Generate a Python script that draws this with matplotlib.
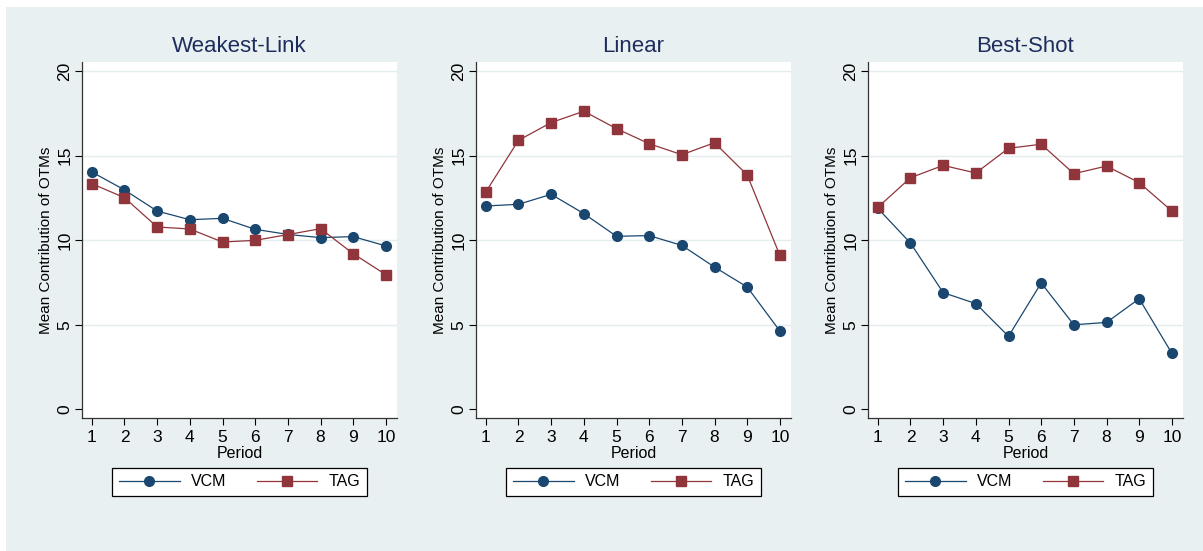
import matplotlib
matplotlib.use("Agg")
import matplotlib.pyplot as plt
from matplotlib.patches import Rectangle

plt.rcParams['font.family'] = ['Liberation Sans', 'DejaVu Sans']

periods = [1, 2, 3, 4, 5, 6, 7, 8, 9, 10]
panel_titles = ["Weakest-Link", "Linear", "Best-Shot"]

wl_vcm = [14.03, 12.97, 11.72, 11.21, 11.29, 10.64, 10.34, 10.15, 10.21, 9.66]
wl_tag = [13.34, 12.51, 10.78, 10.66, 9.89, 9.99, 10.33, 10.68, 9.20, 7.96]
lin_vcm = [12.02, 12.12, 12.71, 11.57, 10.23, 10.27, 9.69, 8.41, 7.23, 4.63]
lin_tag = [12.85, 15.90, 16.95, 17.62, 16.59, 15.70, 15.05, 15.76, 13.85, 9.10]
bs_vcm = [11.88, 9.83, 6.90, 6.25, 4.32, 7.47, 5.00, 5.14, 6.54, 3.31]
bs_tag = [11.94, 13.69, 14.42, 13.97, 15.43, 15.67, 13.93, 14.38, 13.40, 11.72]

yticks = [0, 5, 10, 15, 20]
series_labels = ["VCM", "TAG"]

W, H = 1203, 551
fig = plt.figure(figsize=(W / 100, H / 100), dpi=100)
fig.patch.set_facecolor("white")
bg = "#E9F0F2"
fig.patches.append(Rectangle((6 / W, 0), 1 - 6 / W, 1 - 7 / H, transform=fig.transFigure,
                             facecolor=bg, edgecolor="none", zorder=-10))

navy = "#1A476F"
maroon = "#90353B"
title_c = "#1E2E5C"

lefts = [82, 476, 868]
data = [(wl_vcm, wl_tag), (lin_vcm, lin_tag), (bs_vcm, bs_tag)]
top_px, bot_px = 62, 418
for i, (title, (vcm, tag)) in enumerate(zip(panel_titles, data)):
    l = lefts[i]
    ax = fig.add_axes([l / W, (H - bot_px) / H, 315 / W, (bot_px - top_px) / H])
    ax.set_facecolor("white")
    for y in [5, 10, 15, 20]:
        ax.axhline(y, color="#E3ECEF", lw=1.0, zorder=0)
    ax.plot(periods, vcm, color=navy, lw=0.9, marker="o", ms=7, label=series_labels[0], zorder=3)
    ax.plot(periods, tag, color=maroon, lw=0.9, marker="s", ms=6.5, label=series_labels[1], zorder=3)
    ax.set_xlim(0.7, 10.34)
    ax.set_ylim(-0.51, 20.53)
    ax.set_xticks(periods)
    ax.set_yticks(yticks)
    ax.set_yticklabels([str(t) for t in yticks], rotation=90, va="center")
    ax.tick_params(axis="both", direction="out", length=5, width=0.8, labelsize=12.5, colors="black")
    ax.tick_params(axis="x", pad=4)
    ax.tick_params(axis="y", pad=2)
    for s in ["top", "right"]:
        ax.spines[s].set_visible(False)
    for s in ["left", "bottom"]:
        ax.spines[s].set_color("#333333")
        ax.spines[s].set_linewidth(0.9)
    ax.set_title(title, fontsize=16, color=title_c, pad=7)
    ax.set_xlabel("Period", fontsize=11.5, labelpad=0)
    ax.set_ylabel("Mean Contribution of OTMs", fontsize=11, labelpad=3)
    leg = ax.legend(loc="upper center", bbox_to_anchor=(0.5, -0.14), ncol=2, fontsize=11.5,
                    frameon=True, fancybox=False, edgecolor="black", framealpha=1,
                    handlelength=3.8, handletextpad=0.7, columnspacing=1.9,
                    borderpad=0.4, borderaxespad=0)
    leg.get_frame().set_linewidth(0.9)

fig.savefig("out.png", dpi=100, facecolor=fig.get_facecolor())
